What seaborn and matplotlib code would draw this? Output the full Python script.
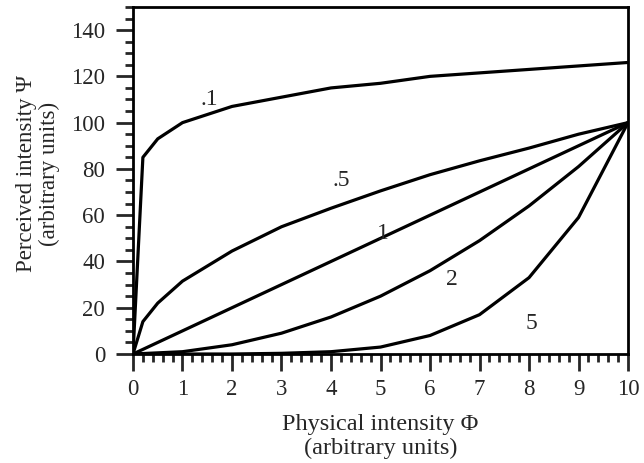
import matplotlib
matplotlib.use("Agg")
import matplotlib.pyplot as plt
from matplotlib.ticker import MultipleLocator
import seaborn as sns
import pandas as pd

# Data
x_01 = [0, 0.2, 0.5, 1, 2, 3, 4, 5, 6, 7, 8, 9, 10]
y_01 = [0, 85, 93, 100, 107, 111, 115, 117, 120, 121.5, 123, 124.5, 126]

x_05 = [0, 0.2, 0.5, 1, 2, 3, 4, 5, 6, 7, 8, 9, 10]
y_05 = [0, 14, 22, 31.5, 44.5, 55, 63, 70.5, 77.5, 83.5, 89, 95, 100]

x_1 = [0, 1, 2, 3, 4, 5, 6, 7, 8, 9, 10]
y_1 = [0, 10, 20, 30, 40, 50, 60, 70, 80, 90, 100]

x_2 = [0, 1, 2, 3, 4, 5, 6, 7, 8, 9, 10]
y_2 = [0, 1, 4, 9, 16, 25, 36, 49, 64, 81, 100]

x_5 = [0, 1, 2, 3, 4, 5, 6, 7, 8, 9, 10]
y_5 = [0, 0, 0, 0.3, 1, 3, 8, 17, 33, 59, 100]

series = [(".1", x_01, y_01), (".5", x_05, y_05), ("1", x_1, y_1),
          ("2", x_2, y_2), ("5", x_5, y_5)]
label_pos = {".1": (1.55, 110), ".5": (4.2, 75), "1": (5.05, 52),
             "2": (6.45, 32), "5": (8.05, 13)}

frames = [pd.DataFrame({"x": xs, "y": ys, "exp": name}) for name, xs, ys in series]
df = pd.concat(frames, ignore_index=True)

sns.set_style("ticks")
plt.rcParams["font.family"] = ["Liberation Serif", "DejaVu Serif"]

fig = plt.figure(figsize=(6.44, 4.63), dpi=100)
ax = fig.add_axes([0.2065, 0.2354, 0.7687, 0.7496])

for name, xs, ys in series:
    sub = df[df["exp"] == name]
    sns.lineplot(data=sub, x="x", y="y", color="black", linewidth=2.3,
                 estimator=None, sort=False, ax=ax, legend=False)
    tx, ty = label_pos[name]
    ax.text(tx, ty, name, fontsize=17, ha="center", va="center")

ax.set_xlim(0, 10)
ax.set_ylim(0, 150)
ax.xaxis.set_major_locator(MultipleLocator(1))
ax.xaxis.set_minor_locator(MultipleLocator(0.2))
ax.yaxis.set_major_locator(MultipleLocator(20))
ax.yaxis.set_minor_locator(MultipleLocator(5))
ax.set_yticks(range(0, 141, 20))
ax.tick_params(which="major", direction="out", length=12, width=2, labelsize=16.5)
ax.tick_params(axis="x", which="major", pad=6)
ax.tick_params(axis="y", which="major", pad=8)
ax.tick_params(which="minor", direction="out", length=6, width=2)
for s in ax.spines.values():
    s.set_visible(True)
    s.set_linewidth(2)
    s.set_color("black")

ax.set_xlabel("Physical intensity Φ\n(arbitrary units)", fontsize=17.5, linespacing=1.15, labelpad=10)
ax.set_ylabel("Perceived intensity Ψ\n(arbitrary units)", fontsize=16.5, linespacing=1.15)
ax.yaxis.set_label_coords(-0.147, 0.52)

fig.savefig("out.png", dpi=100)
